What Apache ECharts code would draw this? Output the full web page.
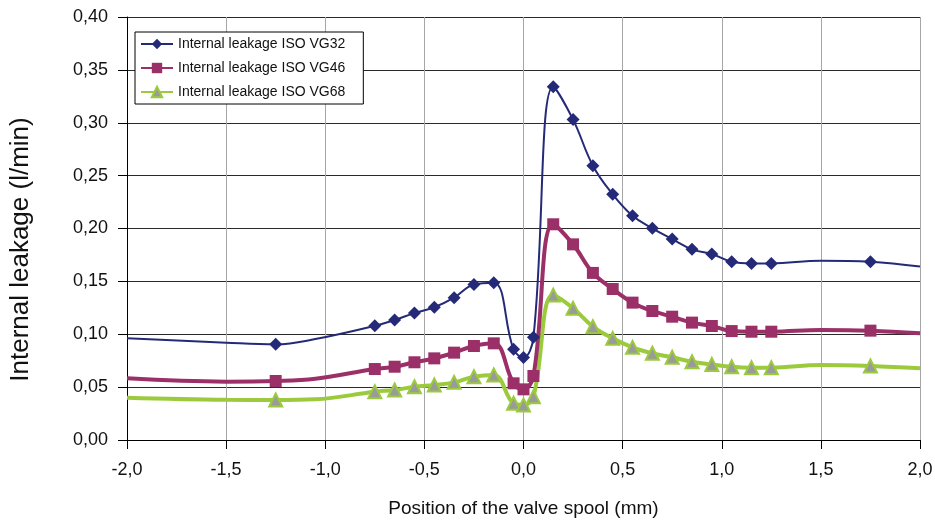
<!DOCTYPE html>
<html>
<head>
<meta charset="utf-8">
<script src="https://cdn.jsdelivr.net/npm/echarts@6/dist/echarts.min.js"></script>
<style>
  html, body { margin: 0; padding: 0; background: #fff; }
  #chart { width: 935px; height: 520px; }
</style>
</head>
<body>
<div id="chart"></div>
<script>
// spool position (mm)
var positions = [-2.0, -1.5, -1.25, -1.05, -0.75, -0.65, -0.55, -0.45, -0.35, -0.25, -0.15, -0.05, 0.0, 0.05,
    0.15, 0.25, 0.35, 0.45, 0.55, 0.65, 0.75, 0.85, 0.95, 1.05, 1.15, 1.25, 1.5, 1.75, 2.0];
// which points carry a marker in the original
var marked = [false, false, true, false, true, true, true, true, true, true, true, true, true, true,
    true, true, true, true, true, true, true, true, true, true, true, true, false, true, false];

var leakVG32 = [0.0962, 0.092, 0.0905, 0.0955, 0.108, 0.1135, 0.120, 0.1255, 0.1346, 0.147, 0.1488, 0.0857, 0.0779, 0.0971,
    0.334, 0.303, 0.2594, 0.2323, 0.212, 0.2002, 0.190, 0.1803, 0.1759, 0.1686, 0.167, 0.167, 0.1696, 0.1686, 0.164];
var leakVG46 = [0.0583, 0.0552, 0.0558, 0.058, 0.0671, 0.0693, 0.0735, 0.0772, 0.0826, 0.0889, 0.0914, 0.0536, 0.0479, 0.0605,
    0.204, 0.185, 0.158, 0.1428, 0.1299, 0.122, 0.1166, 0.111, 0.1078, 0.103, 0.1024, 0.1024, 0.104, 0.1034, 0.101];
var leakVG68 = [0.040, 0.038, 0.0378, 0.0385, 0.0457, 0.0473, 0.0504, 0.052, 0.0545, 0.0599, 0.0615, 0.0347, 0.0331, 0.041,
    0.137, 0.1245, 0.1072, 0.0961, 0.0876, 0.082, 0.0782, 0.074, 0.0715, 0.0693, 0.0684, 0.0684, 0.0709, 0.070, 0.0678];

var seriesNames = ['Internal leakage ISO VG32', 'Internal leakage ISO VG46', 'Internal leakage ISO VG68'];

var FONT = 'Liberation Sans, Arial, sans-serif';

function buildData(values, symbol) {
    return positions.map(function(x, i) {
        return { value: [x, values[i]], symbol: marked[i] ? symbol : 'none' };
    });
}

var chart = echarts.init(document.getElementById('chart'));

var option = {
    animation: false,
    textStyle: { fontFamily: FONT, color: '#111' },
    grid: { left: 127, right: 15, top: 17, bottom: 80, outerBoundsMode: 'none' },
    legend: {
        left: 135,
        top: 32,
        orient: 'vertical',
        selectedMode: false,
        backgroundColor: '#fff',
        borderColor: '#000',
        borderWidth: 1,
        padding: [5, 18, 5, 5],
        itemWidth: 32,
        itemHeight: 13,
        itemGap: 10,
        textStyle: { fontFamily: FONT, fontSize: 14, color: '#111' },
        data: seriesNames
    },
    xAxis: {
        type: 'value',
        min: -2,
        max: 2,
        interval: 0.5,
        name: 'Position of the valve spool (mm)',
        nameLocation: 'middle',
        nameGap: 59,
        nameTextStyle: { fontFamily: FONT, fontSize: 19, color: '#111' },
        axisLine: { onZero: false, lineStyle: { color: '#000', width: 1 } },
        axisTick: { show: true, inside: false, length: 9, lineStyle: { color: '#000' } },
        axisLabel: {
            fontSize: 18, color: '#111', margin: 21,
            formatter: function(v) { return v.toFixed(1).replace('.', ','); }
        },
        splitLine: { show: true, lineStyle: { color: '#a6a6a6', width: 1 } }
    },
    yAxis: {
        type: 'value',
        min: 0,
        max: 0.4,
        interval: 0.05,
        name: 'Internal leakage (l/min)',
        nameLocation: 'middle',
        nameGap: 93,
        nameTextStyle: { fontFamily: FONT, fontSize: 26, color: '#111', padding: [0, 42, 0, 0] },
        axisLine: { show: true, onZero: false, lineStyle: { color: '#000', width: 1 } },
        axisTick: { show: true, inside: false, length: 9, lineStyle: { color: '#000' } },
        axisLabel: {
            fontSize: 18, color: '#111', margin: 19,
            formatter: function(v) { return v.toFixed(2).replace('.', ','); }
        },
        splitLine: { show: true, lineStyle: { color: '#2a2a2a', width: 1 } }
    },
    series: [{
        name: seriesNames[0],
        type: 'line',
        smooth: 0.4,
        symbol: 'diamond',
        symbolSize: 13,
        lineStyle: { color: '#252a78', width: 2 },
        itemStyle: { color: '#252a78' },
        data: buildData(leakVG32, 'diamond'),
        z: 5
    }, {
        name: seriesNames[1],
        type: 'line',
        smooth: 0.4,
        symbol: 'rect',
        symbolSize: 12,
        lineStyle: { color: '#9b3068', width: 4 },
        itemStyle: { color: '#9b3068' },
        data: buildData(leakVG46, 'rect'),
        z: 4
    }, {
        name: seriesNames[2],
        type: 'line',
        smooth: 0.4,
        symbol: 'triangle',
        symbolSize: 13,
        lineStyle: { color: '#9bcb3c', width: 4 },
        itemStyle: { color: '#9a9a9a', borderColor: '#9bcb3c', borderWidth: 2 },
        data: buildData(leakVG68, 'triangle'),
        z: 3
    }]
};

chart.setOption(option);
</script>
</body>
</html>
